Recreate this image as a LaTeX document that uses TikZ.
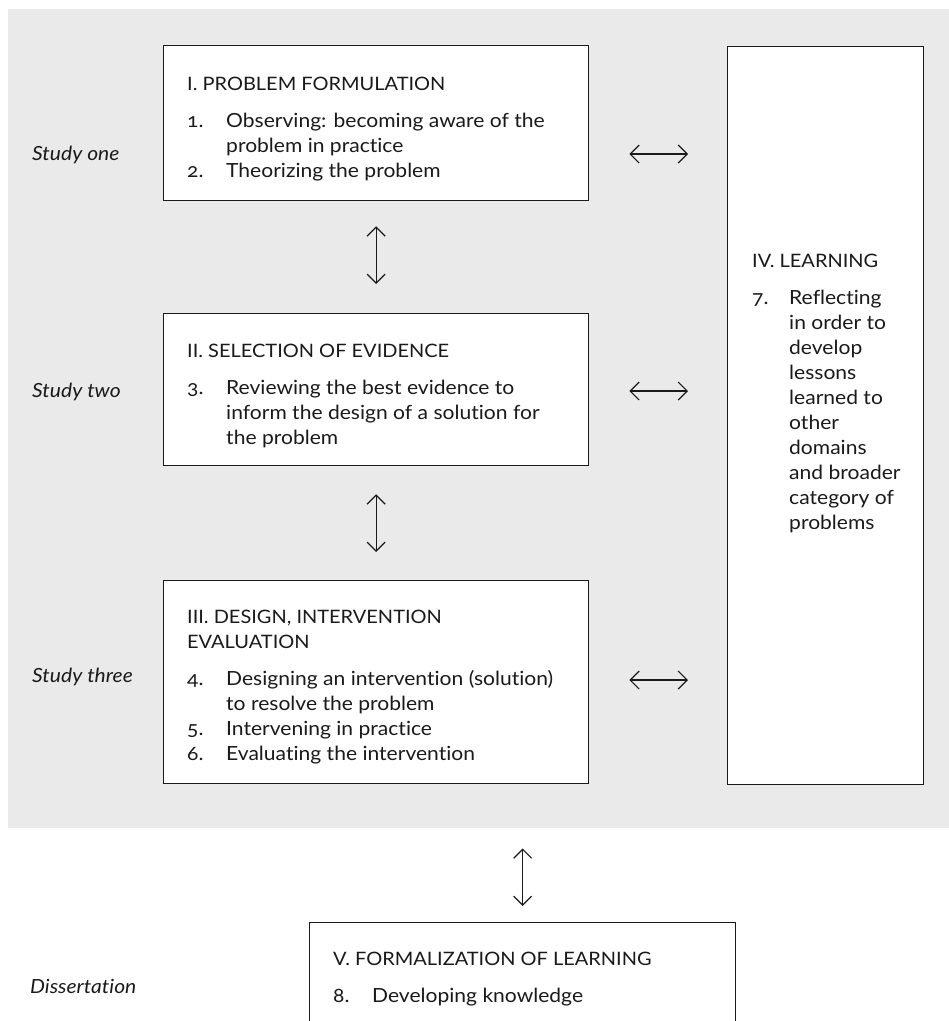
\documentclass[tikz,border=0pt]{standalone}
\usepackage{fontspec}
\setmainfont{Lato}[Numbers=OldStyle, FakeStretch=1.08, Ligatures=NoCommon]
\usetikzlibrary{arrows.meta}
\definecolor{bgray}{HTML}{EAEAEA}
\definecolor{ink}{HTML}{1A1A1A}
\newcommand\ttl[1]{\multicolumn{2}{@{}l@{}}{\fontsize{18.5}{25}\selectfont #1}}
\begin{document}
\begin{tikzpicture}[x=1pt,y=-1pt,
  box/.style={draw=ink, line width=1.3pt, fill=white, anchor=north west, inner sep=0pt},
  txt/.style={anchor=base west, inner sep=0pt, font=\fontsize{19.5}{25}\selectfont, text=ink},
  lab/.style={anchor=base west, inner sep=0pt, font=\fontsize{19.5}{25}\selectfont\itshape, text=ink},
  link/.style={line width=1.2pt, draw=ink, {Straight Barb[length=9pt,width=18pt]}-{Straight Barb[length=9pt,width=18pt]}}
]
\useasboundingbox (0,0) rectangle (949,1021);
\clip (0,0) rectangle (949,1021);
% background
\node[fill=bgray, anchor=north west, inner sep=0pt, minimum width=941pt, minimum height=819pt] (bg) at (8,9) {};
% boxes
\node[box, minimum width=425pt, minimum height=155pt] (b1) at (163,45) {};
\node[box, minimum width=425pt, minimum height=152pt] (b2) at (163,313) {};
\node[box, minimum width=425pt, minimum height=203pt] (b3) at (163,580) {};
\node[box, minimum width=196pt, minimum height=738pt] (b4) at (727,46) {};
\node[box, minimum width=426pt, minimum height=140pt] (b5) at (309,922) {};
% texts
\node[txt] (t1) at (187,90) {\begin{tabular}[t]{@{}p{39pt}@{}l@{}}
\ttl{I. PROBLEM FORMULATION}\\[12pt]
1. & Observing: becoming aware of the\\
 & problem in practice\\
2. & Theorizing the problem
\end{tabular}};
\node[txt] (t2) at (187,357) {\begin{tabular}[t]{@{}p{39pt}@{}l@{}}
\ttl{II. SELECTION OF EVIDENCE}\\[12pt]
3. & Reviewing the best evidence to\\
 & inform the design of a solution for\\
 & the problem
\end{tabular}};
\node[txt] (t3) at (187,623) {\begin{tabular}[t]{@{}p{39pt}@{}l@{}}
\ttl{III. DESIGN, INTERVENTION}\\
\ttl{EVALUATION}\\[12pt]
4. & Designing an intervention (solution)\\
 & to resolve the problem\\
5. & Intervening in practice\\
6. & Evaluating the intervention
\end{tabular}};
\node[txt] (t4) at (752,267) {\begin{tabular}[t]{@{}p{37pt}@{}l@{}}
\ttl{IV. LEARNING}\\[12pt]
7. & Reflecting\\
 & in order to\\
 & develop\\
 & lessons\\
 & learned to\\
 & other\\
 & domains\\
 & and broader\\
 & category of\\
 & problems
\end{tabular}};
\node[txt] (t5) at (333,965) {\begin{tabular}[t]{@{}p{39pt}@{}l@{}}
\ttl{V. FORMALIZATION OF LEARNING}\\[12pt]
8. & Developing knowledge
\end{tabular}};
% labels
\node[lab] (s1) at (32,160) {Study one};
\node[lab] (s2) at (32,397) {Study two};
\node[lab] (s3) at (32,682) {Study three};
\node[lab] (s4) at (30,993) {Dissertation};
% arrow heights
\coordinate (h1) at (0,154);
\coordinate (h2) at (0,391);
\coordinate (h3) at (0,680);
% connectors
\draw[link, shorten <=25pt, shorten >=29pt] (b1.south) -- (b2.north);
\draw[link, shorten <=28pt, shorten >=28pt] (b2.south) -- (b3.north);
\draw[link, shorten <=20pt, shorten >=16pt] (bg.south -| b5.north) -- (b5.north);
\draw[link, shorten <=40pt, shorten >=39pt] (b1.east |- h1) -- (b4.west |- h1);
\draw[link, shorten <=40pt, shorten >=39pt] (b2.east |- h2) -- (b4.west |- h2);
\draw[link, shorten <=40pt, shorten >=39pt] (b3.east |- h3) -- (b4.west |- h3);
\end{tikzpicture}
\end{document}
